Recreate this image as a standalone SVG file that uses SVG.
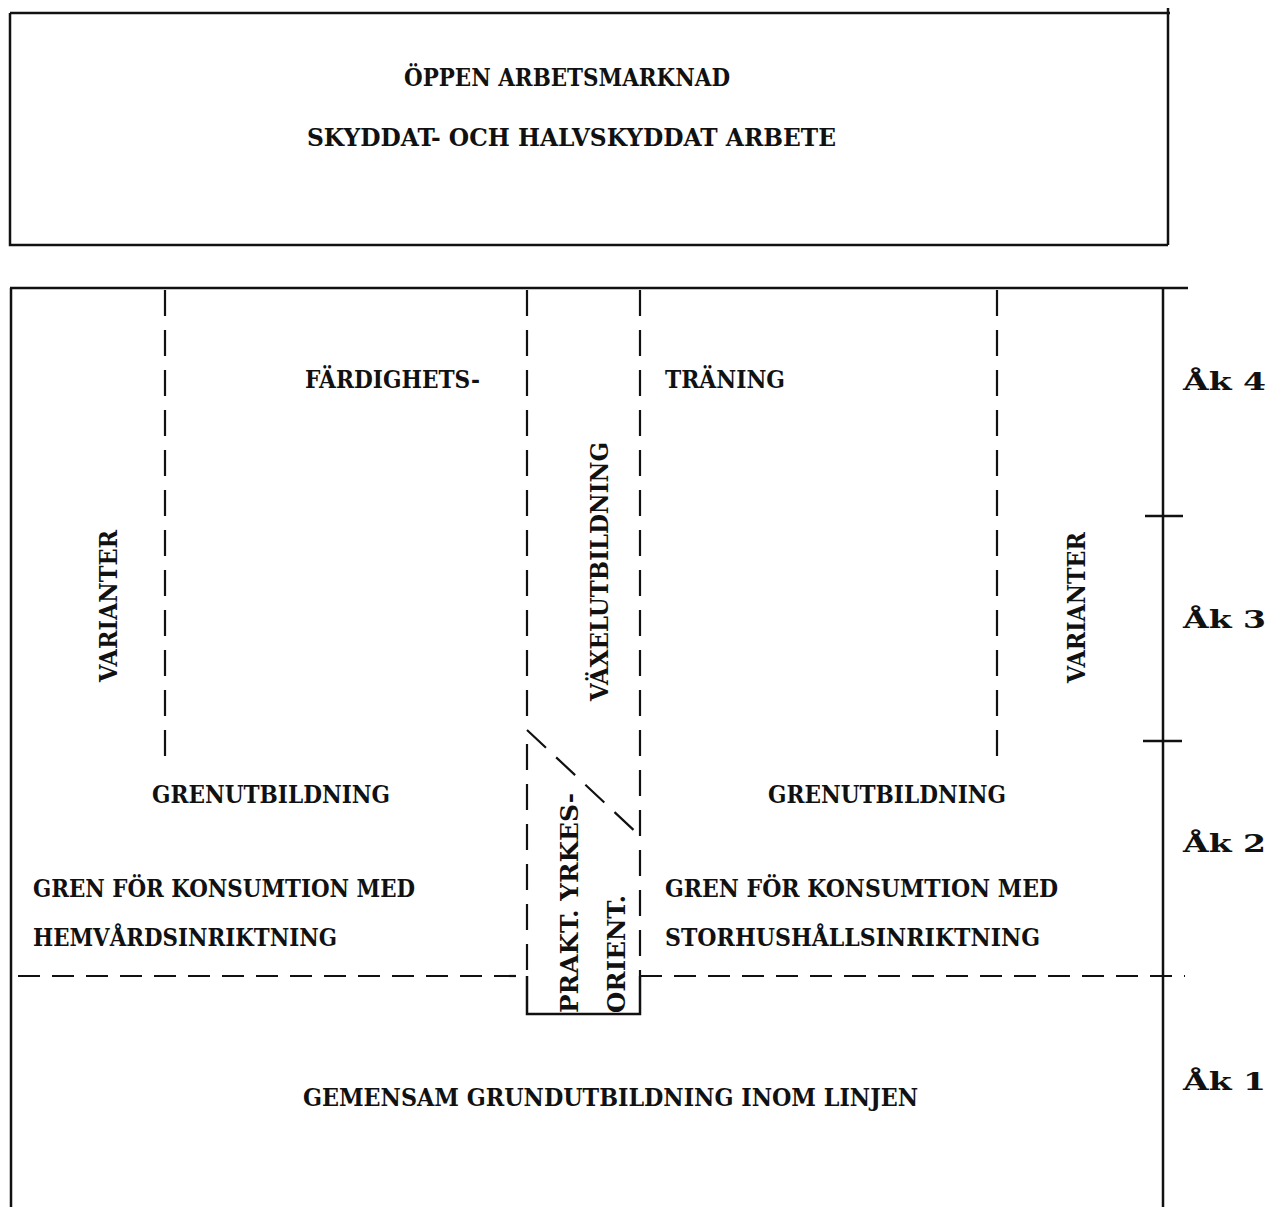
<svg xmlns="http://www.w3.org/2000/svg" width="1266" height="1207" viewBox="0 0 1266 1207">
<style>
.t{font-family:"DejaVu Serif","Liberation Serif",serif;font-weight:bold;font-size:24px;fill:#111}
.ak{font-family:"DejaVu Serif","Liberation Serif",serif;font-weight:bold;font-size:24px;fill:#111}
.solid{stroke:#111;stroke-width:2.5;fill:none}
.dash{stroke:#111;stroke-width:2.2;fill:none;stroke-dasharray:26 14}
.hdash{stroke:#111;stroke-width:2.2;fill:none;stroke-dasharray:22 12}
</style>
<rect width="1266" height="1207" fill="#fff"/>
<g id="top-box">
<path class="solid" d="M10 13 H1170 M1168 8 V245 M10 13 V245 H1168" stroke-width="3"/>
<text class="t" x="404" y="86" textLength="326" lengthAdjust="spacingAndGlyphs">ÖPPEN ARBETSMARKNAD</text>
<text class="t" x="307" y="146" textLength="529" lengthAdjust="spacingAndGlyphs">SKYDDAT- OCH HALVSKYDDAT ARBETE</text>
</g>
<g id="frame">
<path class="solid" d="M10 288 H1188 M11 288 V1207" stroke-width="2.5"/>
<path class="solid" d="M1163 288 V1207" stroke-width="3.2"/>
<path class="solid" d="M1145 516 H1183 M1143 741 H1182"/>
</g>
<g id="connectors">
<path class="dash" d="M165 290 V762"/>
<path class="dash" d="M997 290 V768"/>
<path class="dash" d="M527 290 V730"/>
<path class="dash" d="M527 730 L640 836"/>
<path class="dash" d="M527 744 V976"/>
<path class="dash" d="M640 290 V976"/>
<path class="hdash" d="M18 976 H527"/>
<path class="hdash" d="M640 976 H1185"/>
<path class="solid" d="M527 976 V1014 H640 V976" stroke-width="2"/>
</g>
<g id="faerdighetstraning">
<text class="t" x="305" y="388" textLength="175" lengthAdjust="spacingAndGlyphs">FÄRDIGHETS-</text>
<text class="t" x="665" y="388" textLength="120" lengthAdjust="spacingAndGlyphs">TRÄNING</text>
</g>
<g id="varianter-left">
<text class="t" transform="translate(117 682) rotate(-90)" textLength="152" lengthAdjust="spacingAndGlyphs">VARIANTER</text>
</g>
<g id="varianter-right">
<text class="t" transform="translate(1085 683) rotate(-90)" textLength="151" lengthAdjust="spacingAndGlyphs">VARIANTER</text>
</g>
<g id="vaxelutbildning">
<text class="t" transform="translate(608 701) rotate(-90)" textLength="259" lengthAdjust="spacingAndGlyphs">VÄXELUTBILDNING</text>
</g>
<g id="prakt">
<text class="t" transform="translate(578 1013) rotate(-90)" textLength="220" lengthAdjust="spacingAndGlyphs">PRAKT. YRKES-</text>
<text class="t" transform="translate(625 1013) rotate(-90)" textLength="118" lengthAdjust="spacingAndGlyphs">ORIENT.</text>
</g>
<g id="grenutbildning-left">
<text class="t" x="152" y="803" textLength="238" lengthAdjust="spacingAndGlyphs">GRENUTBILDNING</text>
</g>
<g id="grenutbildning-right">
<text class="t" x="768" y="803" textLength="238" lengthAdjust="spacingAndGlyphs">GRENUTBILDNING</text>
</g>
<g id="gren-hemvard">
<text class="t" x="33" y="897" textLength="382" lengthAdjust="spacingAndGlyphs">GREN FÖR KONSUMTION MED</text>
<text class="t" x="33" y="946" textLength="304" lengthAdjust="spacingAndGlyphs">HEMVÅRDSINRIKTNING</text>
</g>
<g id="gren-storhushall">
<text class="t" x="665" y="897" textLength="393" lengthAdjust="spacingAndGlyphs">GREN FÖR KONSUMTION MED</text>
<text class="t" x="665" y="946" textLength="375" lengthAdjust="spacingAndGlyphs">STORHUSHÅLLSINRIKTNING</text>
</g>
<g id="gemensam">
<text class="t" x="303" y="1106" textLength="615" lengthAdjust="spacingAndGlyphs">GEMENSAM GRUNDUTBILDNING INOM LINJEN</text>
</g>
<g id="arskurser">
<text class="ak" x="1183" y="390" textLength="83" lengthAdjust="spacingAndGlyphs">Åk 4</text>
<text class="ak" x="1183" y="628" textLength="83" lengthAdjust="spacingAndGlyphs">Åk 3</text>
<text class="ak" x="1183" y="852" textLength="83" lengthAdjust="spacingAndGlyphs">Åk 2</text>
<text class="ak" x="1183" y="1090" textLength="83" lengthAdjust="spacingAndGlyphs">Åk 1</text>
</g>
</svg>
